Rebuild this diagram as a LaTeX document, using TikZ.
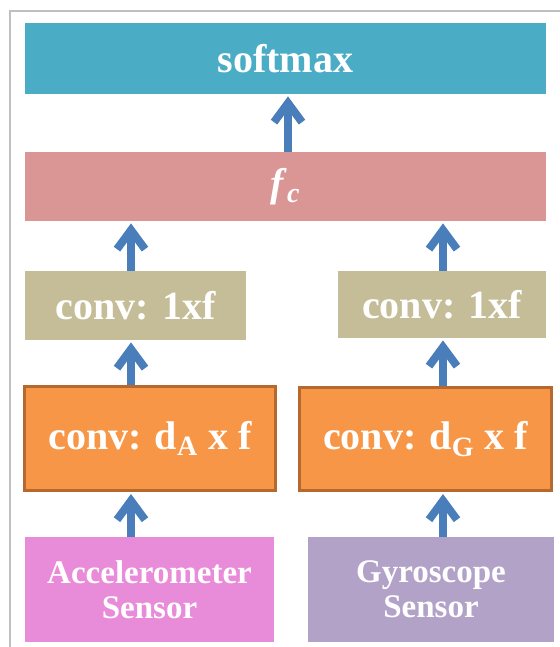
\documentclass[tikz,border=0pt]{standalone}
\usepackage{fontspec}
\setmainfont{Liberation Serif}
\usetikzlibrary{arrows.meta}
\definecolor{framegray}{HTML}{BFBFBF}
\definecolor{softmaxblue}{HTML}{4BACC6}
\definecolor{fcrose}{HTML}{D99694}
\definecolor{convtan}{HTML}{C4BD97}
\definecolor{convorange}{HTML}{F79646}
\definecolor{convbrown}{HTML}{B5692E}
\definecolor{accpink}{HTML}{E88BD9}
\definecolor{gyrolilac}{HTML}{B3A2C7}
\definecolor{arrowblue}{HTML}{4A7EBB}
\begin{document}
\begin{tikzpicture}[x=0.5pt,y=-0.5pt,
  layer/.style={rectangle,inner sep=0pt,text=white,align=center,
    font=\bfseries\fontsize{20}{24}\selectfont},
  sensor/.style={layer,font=\bfseries\fontsize{16.5}{17.5}\selectfont},
  uparrow/.style={draw=arrowblue,line width=4pt,shorten >=1pt,
    -{Straight Barb[length=9.5pt,width=14pt]}}]
\useasboundingbox (0,0) rectangle (560,647);
\draw[framegray,line width=1pt] (9.5,647) -- (9.5,11.5) -- (560,11.5);

\coordinate (lcol) at (131,0);
\coordinate (mcol) at (288,0);
\coordinate (rcol) at (443,0);

\node[layer,fill=softmaxblue,minimum width=260.5pt,minimum height=35.5pt] (softmax) at (285.5,58.5) {softmax};
\node[layer,fill=fcrose,minimum width=260.5pt,minimum height=34.5pt] (fc) at (285.5,186.5) {\textit{f}\textsubscript{\textit{c}}};
\node[layer,fill=convtan,minimum width=110.5pt,minimum height=34.5pt] (convoneA) at (135.5,305.5) {conv: 1xf};
\node[layer,fill=convtan,minimum width=104pt,minimum height=33.5pt] (convoneG) at (442,304.5) {conv: 1xf};
\node[layer,fill=convorange,draw=convbrown,line width=1.5pt,minimum width=125.5pt,minimum height=52pt] (convA) at (150,438.5) {conv: d\textsubscript{A} x f};
\node[layer,fill=convorange,draw=convbrown,line width=1.5pt,minimum width=126pt,minimum height=51.5pt] (convG) at (425.5,439) {conv: d\textsubscript{G} x f};
\node[sensor,fill=accpink,minimum width=124.5pt,minimum height=52.5pt] (acc) at (149.5,589.5) {Accelerometer\\Sensor};
\node[sensor,fill=gyrolilac,minimum width=123pt,minimum height=52.5pt] (gyro) at (431,589.5) {Gyroscope\\Sensor};

\draw[uparrow] (fc.north -| mcol) -- (softmax.south -| mcol);
\draw[uparrow] (convoneA.north -| lcol) -- (fc.south -| lcol);
\draw[uparrow] (convoneG.north -| rcol) -- (fc.south -| rcol);
\draw[uparrow] (convA.north -| lcol) -- (convoneA.south -| lcol);
\draw[uparrow] (convG.north -| rcol) -- (convoneG.south -| rcol);
\draw[uparrow] (acc.north -| lcol) -- (convA.south -| lcol);
\draw[uparrow] (gyro.north -| rcol) -- (convG.south -| rcol);
\end{tikzpicture}
\end{document}
